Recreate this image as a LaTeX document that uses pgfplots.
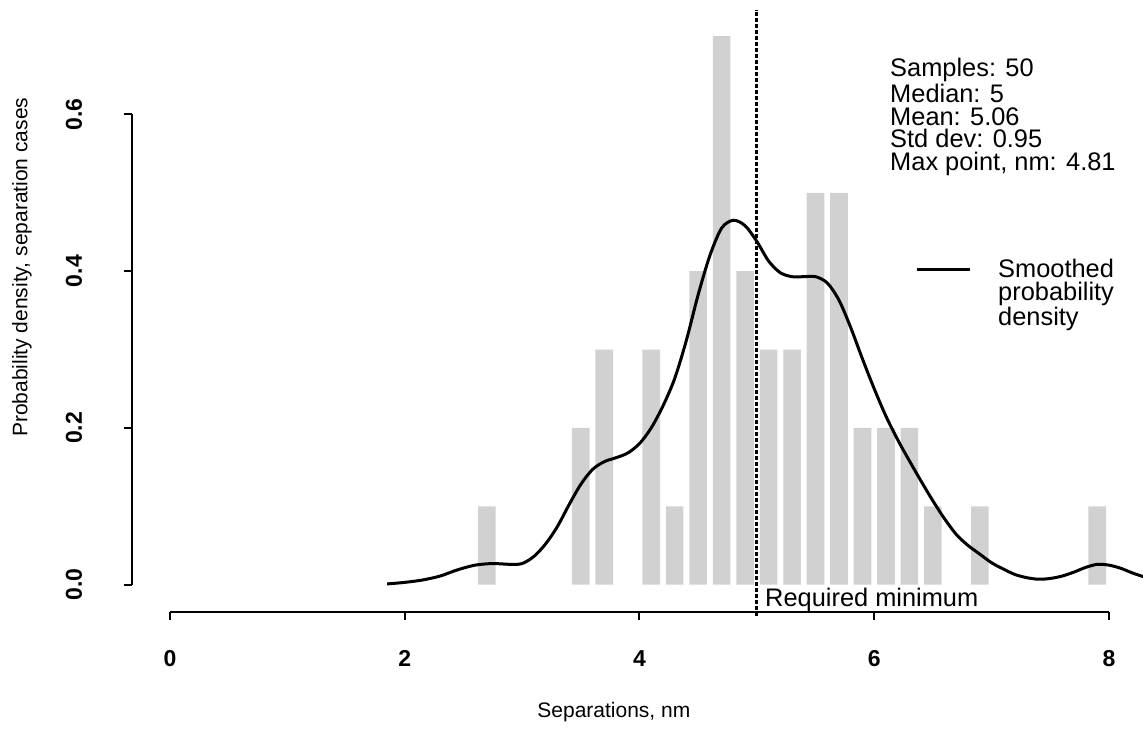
\documentclass[border=0pt]{standalone}
\usepackage{fontspec}
\setmainfont{Liberation Sans}
\usepackage{pgfplots}
\pgfplotsset{compat=1.18}

% histogram of the 50 separations (bin height = count/10)
\pgfplotstableread{
x    h
2.7  0.1
3.5  0.2
3.7  0.3
4.1  0.3
4.3  0.1
4.5  0.4
4.7  0.7
4.9  0.4
5.1  0.3
5.3  0.3
5.5  0.5
5.7  0.5
5.9  0.2
6.1  0.2
6.3  0.2
6.5  0.1
6.9  0.1
7.9  0.1
}\histdata

% smoothed density
\pgfplotstableread{
x    d
1.85 0.001
2.00 0.003
2.15 0.006
2.30 0.011
2.45 0.019
2.60 0.025
2.75 0.027
2.90 0.026
3.00 0.027
3.10 0.036
3.20 0.052
3.30 0.074
3.40 0.102
3.50 0.128
3.60 0.147
3.70 0.157
3.80 0.162
3.90 0.168
4.00 0.180
4.10 0.200
4.20 0.228
4.30 0.263
4.40 0.312
4.50 0.370
4.60 0.420
4.70 0.455
4.80 0.465
4.90 0.458
5.00 0.438
5.10 0.413
5.20 0.398
5.30 0.393
5.40 0.393
5.50 0.393
5.60 0.385
5.70 0.363
5.80 0.328
5.90 0.288
6.00 0.250
6.10 0.215
6.20 0.185
6.30 0.158
6.40 0.132
6.50 0.107
6.60 0.084
6.70 0.064
6.80 0.050
6.90 0.039
7.00 0.028
7.10 0.020
7.20 0.013
7.30 0.009
7.40 0.007
7.50 0.008
7.60 0.011
7.70 0.016
7.80 0.022
7.90 0.026
8.00 0.025
8.10 0.021
8.20 0.015
8.30 0.010
}\densdata

\begin{document}
\begin{tikzpicture}
\begin{axis}[
  x=58.7pt, y=392pt,
  xmin=-0.32, xmax=8.29,
  ymin=-0.035, ymax=0.735,
  clip=false,
  axis x line*=bottom, axis y line*=left,
  axis line style={draw=none},
  xtick={0,2,4,6,8},
  ytick={0,0.2,0.4,0.6},
  tick align=outside,
  major tick length=4pt,
  tick style={black, line width=1pt},
  /pgf/number format/assume math mode=true,
  ticklabel style={font=\fontsize{11.5}{12}\selectfont\bfseries, inner sep=0pt},
  xticklabel shift=15pt,
  yticklabel shift=21pt,
  yticklabel style={rotate=90, anchor=south,
    /pgf/number format/.cd, fixed, fixed zerofill, precision=1},
]
\addplot[ybar, bar width=0.15, draw=none, fill=black!18] table[x=x, y=h] {\histdata};
\addplot[black, line width=1.5pt, smooth] table[x=x, y=d] {\densdata};
\addplot[black, line width=1.6pt, dash pattern=on 2pt off 1pt] coordinates {(5,-0.04) (5,0.733)};

% R-style axis spans
\draw[line width=1pt] (axis cs:0,-0.035) -- (axis cs:8,-0.035);
\draw[line width=1pt] (axis cs:-0.32,0) -- (axis cs:-0.32,0.6);

\node[anchor=base west, inner sep=0pt, font=\fontsize{12.7}{13}\selectfont]
  at (axis cs:5.068,-0.028) {Required minimum};

\node[anchor=north west, inner sep=0pt, align=left, font=\fontsize{12.7}{11.3}\selectfont]
  at (axis cs:6.133,0.672) {Samples: 50\\Median: 5\\Mean: 5.06\\Std dev: 0.95\\Max point, nm: 4.81};

\draw[line width=1.2pt] (axis cs:6.363,0.402) -- (axis cs:6.814,0.402);
\node[anchor=north west, inner sep=0pt, align=left, font=\fontsize{12.7}{11.3}\selectfont]
  at (axis cs:7.053,0.416) {Smoothed\\probability\\density};

\node[font=\fontsize{10.5}{12}\selectfont] at (axis cs:3.782,-0.163) {Separations, nm};
\node[rotate=90, font=\fontsize{10.5}{12}\selectfont] at (axis cs:-1.261,0.405)
  {Probability density, separation cases};

\coordinate (bl) at (axis cs:-1.448,-0.196);
\coordinate (tr) at (axis cs:8.29,0.746);
\end{axis}
\pgfresetboundingbox
\path (bl) rectangle (tr);
\end{tikzpicture}
\end{document}
